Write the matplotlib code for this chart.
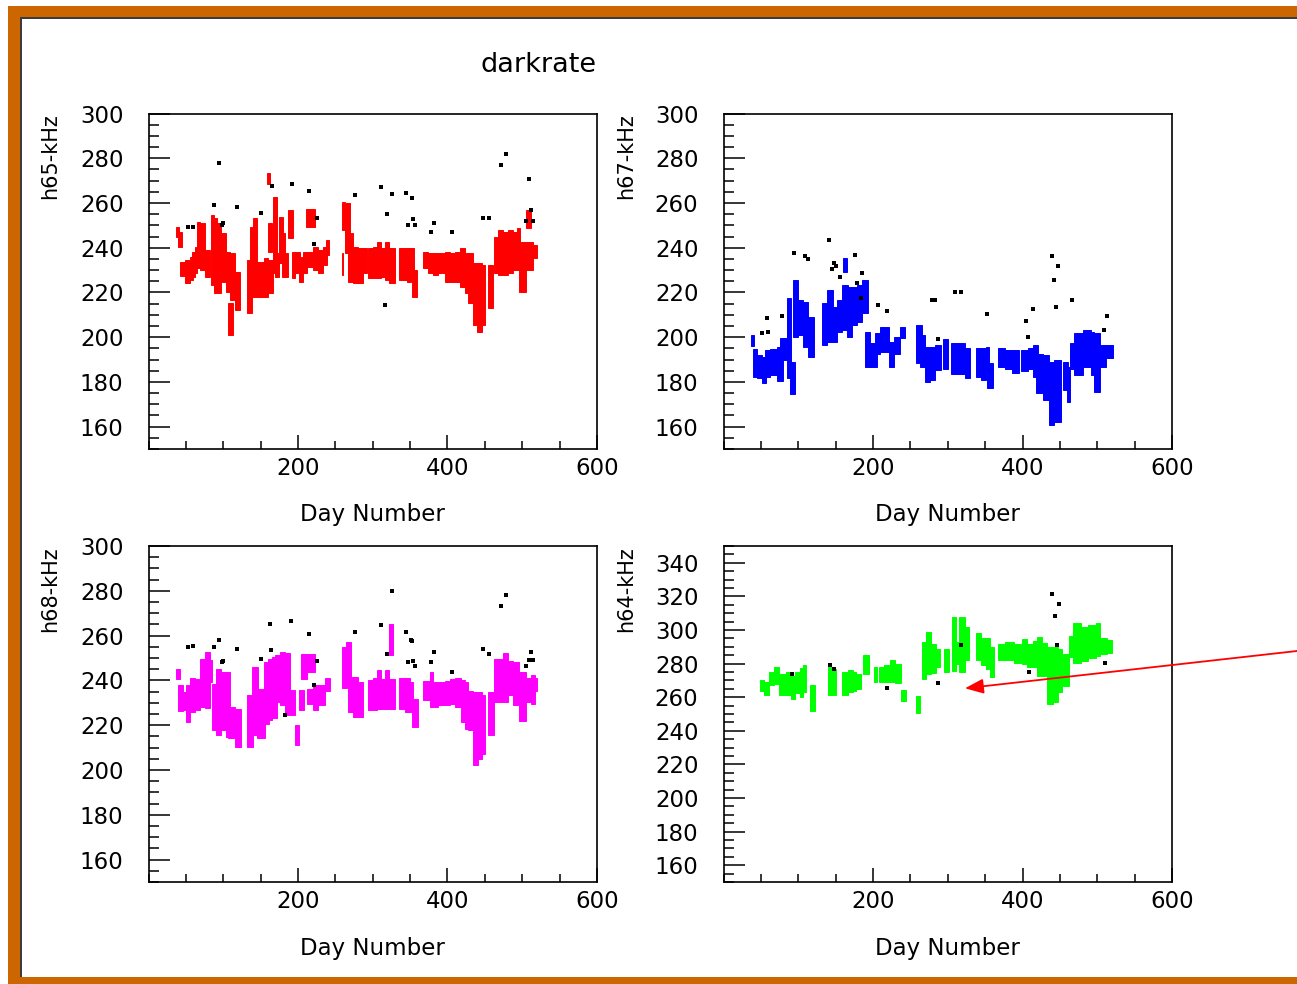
import matplotlib
matplotlib.use("Agg")
import matplotlib.pyplot as plt
from matplotlib.patches import Rectangle
from matplotlib.ticker import MultipleLocator, FixedLocator

plt.rcParams['font.family'] = ['DejaVu Sans']

# Dark-rate runs per channel: (first day, last day, min kHz, max kHz)
h65_runs = [
    (36.8, 41.2, 244.9, 249.4), (39.9, 44.4, 240.2, 247.2), (42.1, 48.8, 227.3, 233.7),
    (48.8, 55.5, 224.1, 234.5), (55.5, 59.1, 225.5, 236.0), (57.7, 62.2, 227.0, 238.2),
    (62.2, 65.3, 228.5, 240.5), (64.4, 68.9, 230.8, 251.7), (68.9, 75.6, 230.0, 250.9),
    (75.6, 82.3, 227.0, 239.0), (83.2, 87.6, 223.3, 254.6), (87.6, 92.1, 219.6, 253.1),
    (92.1, 96.5, 219.6, 250.9), (96.5, 103.7, 224.8, 246.4), (103.7, 109.0, 220.3, 238.2),
    (105.9, 113.5, 200.9, 215.1), (109.0, 115.7, 216.6, 237.5), (115.7, 122.4, 212.1, 229.3),
    (132.2, 138.0, 210.6, 234.5), (135.8, 140.2, 218.1, 249.4), (140.2, 145.6, 218.1, 253.1),
    (145.6, 155.8, 218.1, 233.7), (154.5, 160.3, 218.1, 235.2), (158.1, 162.5, 268.5, 273.6),
    (159.4, 164.8, 238.2, 250.9), (160.3, 166.1, 219.6, 234.5), (167.0, 172.3, 228.5, 262.8),
    (169.2, 175.0, 227.0, 237.5), (175.0, 180.4, 233.0, 253.9), (178.1, 182.6, 227.0, 246.4),
    (182.6, 187.1, 227.0, 237.5), (187.1, 193.7, 244.2, 256.9), (191.5, 196.0, 226.3, 238.2),
    (196.0, 202.7, 228.5, 238.2), (201.8, 207.1, 224.8, 236.0), (207.1, 211.6, 228.5, 238.2),
    (210.7, 222.7, 249.4, 257.2), (211.6, 220.5, 231.5, 238.2), (220.5, 227.2, 230.0, 240.5),
    (227.2, 233.9, 228.5, 239.0), (233.0, 238.3, 232.3, 240.5), (237.0, 241.9, 236.7, 243.4),
    (258.4, 262.9, 247.9, 260.6), (258.4, 260.6, 227.8, 237.5), (262.9, 269.5, 237.5, 259.9),
    (267.3, 274.0, 224.8, 246.4), (274.0, 280.7, 224.1, 240.5), (280.7, 287.4, 224.1, 239.7),
    (287.4, 291.8, 228.5, 239.7), (294.1, 300.8, 226.3, 239.7), (300.8, 306.1, 226.3, 240.5),
    (305.2, 310.6, 226.3, 242.7), (310.6, 316.4, 227.0, 239.7), (316.4, 322.2, 225.5, 242.7),
    (322.2, 329.7, 224.1, 239.7), (335.5, 345.4, 225.5, 239.7), (345.4, 350.7, 224.8, 239.7),
    (350.7, 355.2, 228.5, 239.7), (352.0, 359.6, 218.1, 230.0), (367.7, 374.3, 230.8, 238.2),
    (374.3, 381.0, 228.5, 237.5), (381.0, 387.7, 227.8, 237.5), (387.7, 396.6, 228.5, 237.5),
    (396.6, 403.3, 224.8, 238.2), (403.3, 410.0, 224.8, 237.5), (410.0, 416.7, 224.8, 238.2),
    (416.7, 423.4, 222.6, 239.7), (423.4, 427.8, 219.6, 237.5), (427.8, 433.6, 215.1, 237.5),
    (433.6, 441.2, 205.4, 233.0), (439.0, 445.7, 202.4, 233.0), (445.7, 450.1, 205.4, 232.3),
    (454.6, 461.3, 212.9, 232.3), (462.6, 468.0, 228.5, 244.9), (468.0, 474.7, 227.8, 247.9),
    (474.7, 481.4, 227.8, 247.2), (481.4, 488.0, 228.5, 247.9), (488.0, 492.5, 230.0, 247.2),
    (492.5, 497.0, 230.0, 248.7), (496.1, 505.0, 220.3, 242.7), (505.0, 511.2, 248.7, 256.9),
    (505.0, 510.3, 230.0, 242.7), (510.3, 514.8, 230.0, 242.7), (514.8, 520.2, 235.2, 241.2),
]
h65_out_day = [53.3, 59.1, 94.3, 88.1, 97.9, 100.1, 118.8, 150.0, 164.8, 192.4, 214.3, 225.4,
               220.9, 276.2, 310.6, 326.2, 319.5, 344.9, 352.0, 354.3, 347.6, 356.9, 381.5,
               378.3, 406.4, 316.4, 447.5, 455.5, 471.1, 478.2, 509.0, 511.2, 505.0, 513.9]
h65_out_val = [249.4, 249.4, 278.0, 259.0, 250.2, 250.9, 258.1, 255.4, 267.6, 268.5, 265.4, 253.4,
               241.7, 263.7, 267.3, 264.0, 254.9, 264.5, 262.1, 252.7, 250.0, 250.0, 251.2,
               247.0, 247.0, 214.4, 253.4, 253.4, 277.1, 282.1, 270.9, 256.9, 251.8, 251.9]

h67_runs = [
    (36.2, 40.7, 196.0, 200.9), (38.9, 45.2, 182.0, 194.5), (45.2, 51.0, 181.6, 192.0),
    (51.0, 56.8, 179.3, 191.3), (55.4, 62.2, 182.3, 194.2), (62.2, 71.1, 183.0, 194.5),
    (71.1, 79.2, 180.5, 195.7), (75.6, 84.5, 189.8, 199.5), (85.4, 89.9, 181.6, 217.4),
    (89.0, 95.7, 174.6, 189.0), (92.6, 100.2, 200.2, 225.5), (100.2, 106.9, 201.0, 216.6),
    (106.9, 113.6, 195.7, 215.9), (113.6, 121.2, 191.3, 209.1), (131.5, 138.2, 196.5, 215.1),
    (138.2, 146.3, 198.0, 221.1), (146.3, 152.5, 198.0, 213.6), (152.5, 158.3, 202.4, 216.6),
    (158.3, 166.0, 203.2, 223.3), (159.7, 165.1, 229.3, 235.2), (165.1, 171.8, 200.2, 222.6),
    (171.8, 178.5, 205.4, 222.6), (178.5, 185.2, 206.9, 223.3), (185.2, 192.8, 210.6, 225.5),
    (189.7, 196.4, 186.8, 202.4), (196.4, 205.3, 186.8, 197.2), (203.1, 209.8, 192.7, 201.7),
    (209.8, 221.0, 193.5, 204.7), (221.0, 227.7, 186.8, 198.0), (227.7, 236.6, 192.7, 200.2),
    (236.6, 243.4, 199.5, 204.7), (258.1, 265.7, 188.3, 205.4), (263.5, 270.2, 186.8, 200.9),
    (270.2, 276.9, 180.1, 195.7), (276.9, 283.6, 180.8, 195.7), (283.6, 291.2, 185.3, 196.5),
    (293.9, 300.2, 186.0, 199.0), (303.8, 312.7, 183.5, 197.2), (312.7, 322.5, 183.5, 197.5),
    (322.5, 329.7, 181.6, 195.0), (337.3, 344.0, 182.3, 195.0), (344.0, 350.7, 180.8, 195.0),
    (350.7, 355.6, 185.3, 195.7), (352.9, 361.0, 177.1, 188.3), (367.3, 376.2, 186.8, 195.0),
    (376.2, 386.5, 185.6, 194.2), (386.5, 395.9, 184.1, 194.2), (398.6, 406.7, 185.0, 194.2),
    (406.7, 414.7, 186.0, 195.0), (414.7, 420.9, 182.3, 196.5), (417.8, 426.8, 174.9, 192.7),
    (426.8, 435.7, 171.9, 192.0), (434.8, 442.4, 160.7, 189.0), (442.4, 451.4, 162.2, 189.8),
    (453.6, 461.2, 176.4, 189.0), (459.4, 463.9, 171.1, 186.8), (463.9, 469.3, 186.0, 197.2),
    (469.3, 480.5, 183.0, 201.7), (480.5, 491.7, 186.8, 203.2), (491.7, 496.1, 183.0, 202.4),
    (496.1, 504.2, 175.6, 201.7), (502.8, 511.8, 186.8, 196.5), (511.8, 520.7, 190.5, 196.5),
]
h67_out_day = [51.9, 57.7, 59.9, 78.7, 94.4, 109.6, 113.6, 140.9, 144.9, 147.2, 150.7, 156.1,
               175.8, 178.5, 185.2, 184.3, 206.2, 218.7, 278.3, 283.2, 286.7, 309.1, 317.6,
               352.1, 404.9, 408.0, 414.7, 439.3, 447.8, 442.4, 445.1, 466.6, 509.5, 513.1]
h67_out_val = [201.7, 208.8, 202.4, 209.6, 237.5, 236.4, 235.0, 243.4, 230.3, 233.3, 232.0, 227.0,
               236.7, 224.1, 228.5, 217.4, 214.4, 211.7, 216.6, 216.6, 199.2, 220.0, 220.0,
               210.3, 207.2, 200.2, 212.7, 236.3, 232.0, 225.5, 213.5, 216.6, 203.2, 209.6]

h68_runs = [
    (36.8, 42.1, 240.5, 245.3), (39.9, 45.7, 226.2, 238.1), (45.7, 51.1, 226.6, 234.8),
    (50.2, 55.5, 221.4, 238.1), (55.5, 62.2, 225.9, 241.1), (62.2, 68.9, 226.6, 240.8),
    (68.9, 75.6, 228.1, 249.7), (75.6, 82.3, 227.7, 252.7), (82.3, 84.5, 239.3, 249.0),
    (84.5, 90.3, 217.7, 238.6), (90.3, 96.5, 215.8, 245.3), (96.5, 103.7, 217.7, 243.8),
    (103.7, 109.0, 214.7, 243.8), (106.8, 115.7, 214.3, 228.1), (115.7, 123.3, 210.2, 227.4),
    (132.2, 139.3, 210.2, 233.3), (138.0, 146.9, 215.5, 246.0), (145.6, 155.8, 214.3, 236.3),
    (154.5, 161.6, 220.7, 248.3), (160.3, 164.8, 222.2, 249.7), (164.8, 171.4, 223.2, 250.5),
    (169.2, 175.9, 230.4, 251.2), (175.9, 182.6, 228.9, 252.7), (182.6, 189.3, 224.7, 252.4),
    (189.3, 196.0, 224.4, 235.6), (196.0, 201.8, 211.0, 219.9), (201.8, 208.0, 226.6, 235.6),
    (203.6, 211.6, 240.8, 252.0), (211.6, 222.7, 243.8, 252.0), (211.6, 220.5, 229.6, 236.3),
    (220.5, 227.2, 226.6, 237.8), (227.2, 236.1, 228.9, 237.8), (236.1, 242.8, 235.1, 241.1),
    (258.4, 265.1, 236.6, 255.0), (264.2, 270.4, 237.1, 257.2), (267.3, 274.0, 225.9, 241.5),
    (274.0, 280.7, 223.7, 241.5), (280.7, 287.4, 223.7, 239.3), (294.1, 300.8, 226.6, 240.1),
    (300.8, 306.1, 226.6, 241.1), (305.2, 310.6, 227.4, 244.5), (310.6, 316.4, 227.4, 240.8),
    (316.4, 322.2, 227.4, 244.5), (322.2, 327.5, 251.2, 265.4), (322.2, 329.7, 227.4, 240.8),
    (335.5, 343.1, 227.4, 241.1), (343.1, 349.8, 225.9, 241.1), (349.8, 354.3, 225.9, 239.3),
    (352.0, 360.9, 219.2, 231.9), (367.7, 376.6, 231.1, 239.6), (376.6, 381.0, 228.1, 243.8),
    (381.0, 387.7, 228.1, 239.3), (387.7, 396.6, 229.2, 239.3), (396.6, 403.3, 228.9, 239.6),
    (403.3, 410.0, 229.6, 240.8), (410.0, 417.6, 228.1, 241.1), (417.6, 423.4, 221.4, 240.1),
    (423.4, 427.8, 218.4, 239.3), (427.8, 433.6, 217.7, 235.1), (433.6, 441.2, 202.3, 234.8),
    (441.2, 445.7, 205.0, 234.8), (445.7, 450.1, 207.3, 233.3), (454.6, 462.2, 215.5, 234.8),
    (462.2, 468.0, 230.4, 249.7), (468.0, 474.7, 230.4, 249.7), (474.7, 481.4, 230.4, 252.4),
    (481.4, 488.0, 233.3, 248.6), (488.0, 496.1, 228.9, 248.3), (496.1, 505.0, 221.7, 243.8),
    (505.0, 511.2, 230.4, 241.1), (511.2, 517.0, 229.6, 242.3), (516.1, 520.1, 235.1, 241.1),
]
h68_out_day = [52.4, 60.0, 88.1, 94.3, 97.9, 100.1, 118.8, 150.0, 162.1, 163.9, 190.6, 214.3,
               225.9, 220.9, 183.0, 276.2, 310.6, 326.2, 319.5, 344.9, 350.7, 352.0, 347.6,
               354.3, 357.0, 381.5, 378.3, 406.4, 447.5, 455.5, 471.1, 478.2, 505.0, 509.0,
               511.7, 513.9]
h68_out_val = [255.0, 255.3, 255.0, 258.2, 248.0, 248.6, 254.2, 249.7, 265.4, 253.5, 266.4, 260.6,
               248.6, 237.8, 224.7, 261.4, 264.7, 280.0, 252.0, 261.7, 257.9, 257.5, 248.0,
               248.6, 246.3, 252.7, 248.0, 243.8, 254.2, 252.0, 273.3, 278.1, 246.5, 249.3,
               252.7, 249.3]

h64_runs = [
    (48.6, 53.6, 263.4, 270.5), (53.6, 61.0, 261.4, 268.9), (61.0, 67.0, 267.0, 274.9),
    (67.0, 74.9, 268.0, 277.9), (74.9, 83.4, 261.4, 273.9), (83.4, 90.8, 261.4, 274.9),
    (90.8, 95.8, 259.0, 272.9), (95.8, 101.7, 262.6, 274.9), (101.7, 105.7, 260.0, 277.3),
    (105.7, 109.7, 263.0, 278.9), (115.6, 122.6, 251.7, 267.0), (139.5, 145.4, 261.4, 277.9),
    (145.4, 150.4, 261.4, 276.9), (158.3, 166.3, 261.4, 274.9), (166.3, 172.7, 263.0, 275.9),
    (172.7, 177.7, 263.4, 274.9), (177.7, 184.1, 265.0, 273.9), (187.1, 194.1, 273.9, 285.2),
    (201.0, 206.0, 269.3, 277.9), (208.0, 214.9, 268.9, 277.9), (214.9, 222.3, 269.3, 278.9),
    (222.3, 229.8, 268.9, 281.9), (229.8, 237.2, 268.6, 279.9), (237.2, 244.7, 258.0, 264.0),
    (257.6, 263.0, 250.7, 261.0), (265.5, 270.5, 271.0, 292.8), (270.5, 277.4, 273.9, 299.1),
    (277.4, 284.4, 274.5, 291.8), (284.4, 289.3, 277.9, 288.8), (295.3, 301.3, 274.9, 288.4),
    (305.2, 311.7, 275.3, 307.6), (311.7, 316.6, 279.9, 292.8), (315.1, 322.6, 274.9, 307.6),
    (322.6, 329.0, 281.9, 301.7), (338.0, 344.9, 281.9, 298.1), (344.9, 351.4, 278.9, 295.2),
    (351.4, 356.3, 276.9, 295.2), (356.3, 361.3, 271.9, 289.8), (367.8, 376.2, 282.4, 291.8),
    (376.2, 388.6, 282.4, 292.8), (388.6, 397.5, 280.5, 291.8), (399.5, 406.0, 279.9, 294.8),
    (406.0, 413.4, 278.0, 291.8), (413.4, 419.4, 278.0, 293.2), (419.4, 425.8, 272.9, 295.7),
    (425.8, 433.3, 272.9, 292.4), (433.3, 440.7, 256.0, 289.8), (440.7, 447.2, 257.0, 289.8),
    (447.2, 453.1, 263.0, 288.8), (454.6, 462.1, 266.6, 285.8), (462.1, 468.0, 283.8, 296.7),
    (468.0, 477.9, 280.5, 304.3), (477.9, 487.9, 281.3, 301.7), (487.9, 497.8, 283.2, 302.7),
    (497.8, 503.7, 284.8, 304.3), (503.7, 512.7, 285.8, 295.2), (512.7, 520.1, 286.4, 293.8),
]
h64_out_day = [92.3, 141.9, 147.9, 218.9, 286.9, 318.1, 408.5, 439.7, 448.2, 443.2, 445.7, 510.2]
h64_out_val = [273.9, 279.3, 276.5, 265.4, 268.6, 291.2, 274.9, 321.5, 315.6, 308.6, 291.2, 280.3]

# Point marked by the call-out arrow on the h64 panel (day, kHz)
arrow_target = (323.0, 265.3)

W, H = 1297, 984
fig = plt.figure(figsize=(W / 100, H / 100), dpi=100)
fig.patch.set_facecolor('white')


def frac_rect(left, top, right, bottom):
    return [left / W, 1 - bottom / H, (right - left) / W, (bottom - top) / H]


panels = [
    dict(runs=h65_runs, od=h65_out_day, ov=h65_out_val, color='#ff0000', name='h65-kHz',
         ylim=(150, 300), box=(148.5, 113.6, 597, 449), lab_x=50),
    dict(runs=h67_runs, od=h67_out_day, ov=h67_out_val, color='#0000ff', name='h67-kHz',
         ylim=(150, 300), box=(723.5, 113.6, 1172, 449), lab_x=626),
    dict(runs=h68_runs, od=h68_out_day, ov=h68_out_val, color='#ff00ff', name='h68-kHz',
         ylim=(150, 300), box=(148.5, 546, 597, 882), lab_x=50),
    dict(runs=h64_runs, od=h64_out_day, ov=h64_out_val, color='#00ff00', name='h64-kHz',
         ylim=(150, 350), box=(723.5, 546, 1172, 882), lab_x=626),
]

axes = []
for p in panels:
    ax = fig.add_axes(frac_rect(*p['box']))
    axes.append(ax)
    start = [r[0] for r in p['runs']]
    width = [r[1] - r[0] for r in p['runs']]
    low = [r[2] for r in p['runs']]
    span = [r[3] - r[2] for r in p['runs']]
    ax.bar(start, span, width=width, bottom=low, align='edge', color=p['color'],
           edgecolor=p['color'], linewidth=0.7, zorder=2)
    ax.plot(p['od'], p['ov'], linestyle='none', marker='s', ms=2.4, mfc='black',
            mec='black', mew=0, zorder=3)

    ax.set_xlim(0, 600)
    ax.set_ylim(*p['ylim'])
    ax.xaxis.set_major_locator(FixedLocator([200, 400, 600]))
    ax.xaxis.set_minor_locator(MultipleLocator(50))
    ax.yaxis.set_major_locator(MultipleLocator(20))
    ax.yaxis.set_minor_locator(MultipleLocator(5))
    ax.tick_params(axis='both', which='both', direction='in', top=False, right=False,
                   width=1.1, color='black', labelsize=16.5)
    ax.tick_params(axis='y', which='major', length=15, pad=18)
    ax.tick_params(axis='y', which='minor', length=7)
    ax.tick_params(axis='x', which='major', length=10, pad=5.5)
    ax.tick_params(axis='x', which='minor', length=5.8)
    for s in ax.spines.values():
        s.set_linewidth(1.2)
        s.set_color('black')

    left, top, right, bottom = p['box']
    ax.text(0.5, -(515 - 449) / (449 - 113.6), 'Day Number', transform=ax.transAxes,
            ha='center', va='center', fontsize=16.5)
    fig.text(p['lab_x'] / W, 1 - top / H, p['name'], rotation=90, ha='center', va='top',
             fontsize=15)

fig.text(539 / W, 1 - 65 / H, 'darkrate', ha='center', va='center', fontsize=19.5)

ann = axes[3].annotate('', xy=arrow_target, xycoords='data',
                       xytext=(1.0, 1 - 651 / H), textcoords='figure fraction',
                       arrowprops=dict(arrowstyle='-|>,head_length=0.75,head_width=0.3',
                                       color='#ff0000', lw=1.3, shrinkA=0, shrinkB=0,
                                       mutation_scale=15),
                       annotation_clip=False)
ann.arrow_patch.set_clip_on(False)

# Orange page frame with a dark inner edge
orange = '#cc6600'
frame = [
    Rectangle((8 / W, 1 - 17 / H), (W - 8) / W, 11 / H, color=orange),
    Rectangle((8 / W, 0), 12 / W, (H - 6) / H, color=orange),
    Rectangle((8 / W, 0), (W - 8) / W, 7 / H, color=orange),
    Rectangle((20 / W, 1 - 19 / H), (W - 20) / W, 2 / H, color='#3c3c3c'),
    Rectangle((20 / W, 7 / H), 1.5 / W, (H - 26) / H, color='#3c3c3c'),
]
for r in frame:
    r.set_transform(fig.transFigure)
    r.set_linewidth(0)
    fig.patches.append(r)

fig.savefig('out.png', dpi=100, facecolor='white')
